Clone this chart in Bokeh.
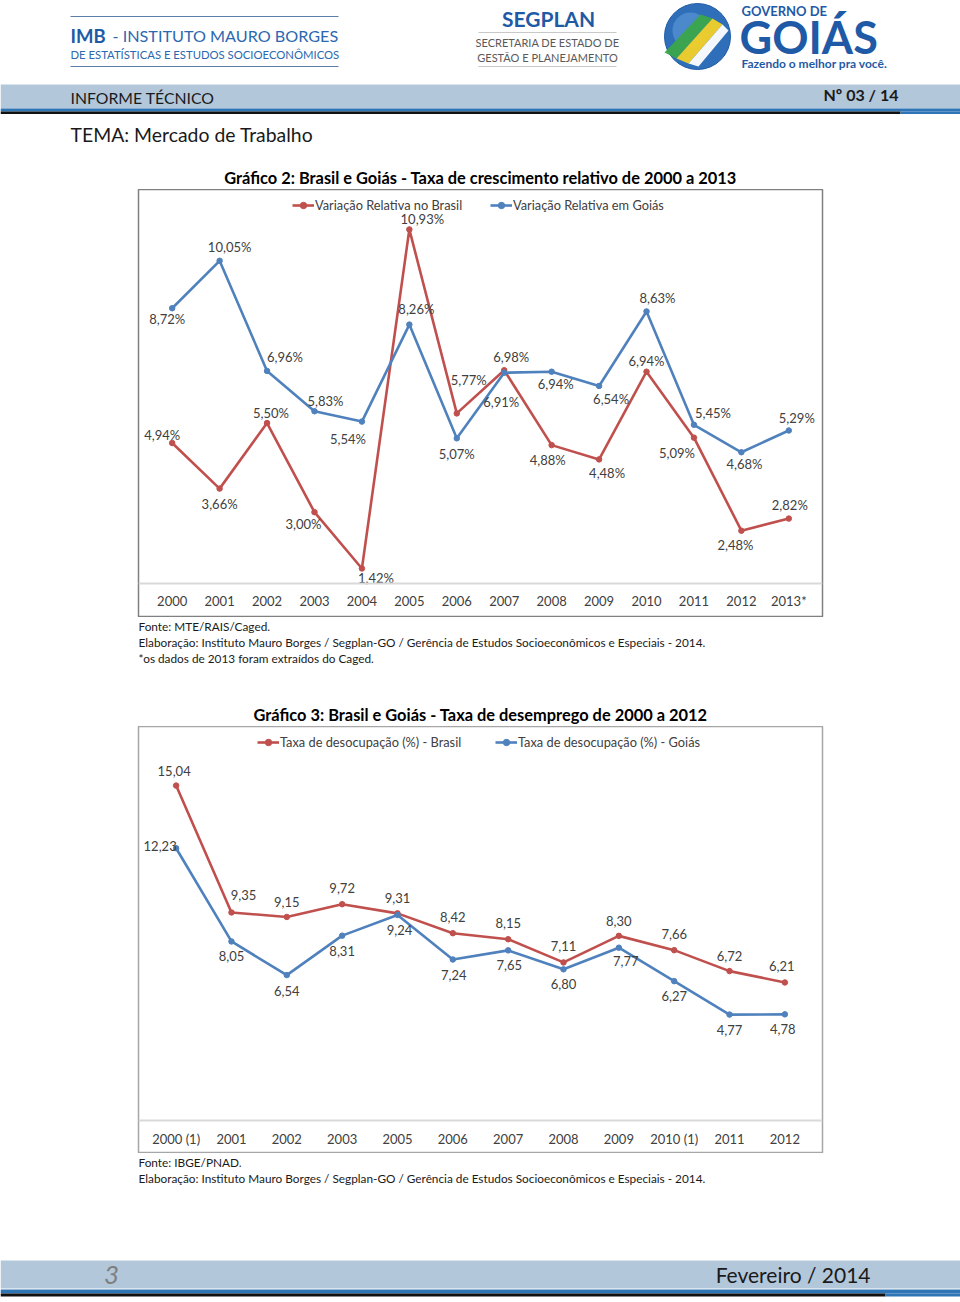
from bokeh.plotting import figure
from bokeh.layouts import column
from bokeh.models import Range1d, FactorRange, Legend, LegendItem, ColumnDataSource
from bokeh.core.properties import value
from bokeh.embed import file_html
from bokeh.resources import INLINE

# ---------------- data ----------------
years1 = ["2000", "2001", "2002", "2003", "2004", "2005", "2006", "2007",
          "2008", "2009", "2010", "2011", "2012", "2013*"]
brasil1 = [4.94, 3.66, 5.50, 3.00, 1.42, 10.93, 5.77, 6.98, 4.88, 4.48, 6.94, 5.09, 2.48, 2.82]
goias1 = [8.72, 10.05, 6.96, 5.83, 5.54, 8.26, 5.07, 6.91, 6.94, 6.54, 8.63, 5.45, 4.68, 5.29]

years2 = ["2000 (1)", "2001", "2002", "2003", "2005", "2006", "2007", "2008",
          "2009", "2010 (1)", "2011", "2012"]
brasil2 = [15.04, 9.35, 9.15, 9.72, 9.31, 8.42, 8.15, 7.11, 8.30, 7.66, 6.72, 6.21]
goias2 = [12.23, 8.05, 6.54, 8.31, 9.24, 7.24, 7.65, 6.80, 7.77, 6.27, 4.77, 4.78]

# label placement (screen pixel offsets from the point)
b1_dx = [-10, 0, 4, -11, 14, 13, 12, 7, -4, 8, 0, -17, -6, 1]
b1_dy = [-8, 15, -10, 12, 10, -10, -33, -13, 15, 14, -11, 15, 14, -14]
g1_dx = [-5, 10, 18, 11, -14, 7, 0, -3, 4, 12, 11, 19, 3, 8]
g1_dy = [11, -14, -14, -10, 17, -16, 16, 29, 12, 13, -13, -12, 12, -13]
b2_dx = [-2, 12, 0, 0, 0, 0, 0, 0, 0, 0, 0, -3]
b2_dy = [-15, -17, -15, -16, -15, -16, -16, -16, -15, -16, -15, -16]
g2_dx = [-16, 0, 0, 0, 2, 1, 1, 0, 7, 0, 0, -2]
g2_dy = [-2, 15, 16, 15, 15, 15, 15, 15, 13, 15, 15, 15]

RED = "#c0504d"
BLUE = "#4f81bd"
FONT = "Lato"
W = 960


def page_fig(y0, y1):
    f = figure(width=W, height=y1 - y0, x_range=Range1d(0, W), y_range=Range1d(y1, y0),
               output_backend="svg", toolbar_location=None, min_border=0,
               x_axis_location=None, y_axis_location=None, frame_align=False)
    f.outline_line_color = None
    f.grid.visible = False
    return f


def txt(f, x, y, s, size, color="#1a1a1a", align="left", style="normal", font=FONT):
    f.text(x=[x], y=[y], text=[s], text_font=value(font), text_font_size=size,
           text_color=color, text_align=align, text_baseline="middle", text_font_style=style)


# ---------------- header ----------------
h = page_fig(0, 189)
# IMB block
h.segment(x0=[70, 70], y0=[16, 66], x1=[338, 338], y1=[16, 66], line_color="#5a7fa8", line_width=1.2)
txt(h, 70, 35, "IMB", "18.5px", "#1f5aa6", style="bold")
txt(h, 112, 35, "- INSTITUTO MAURO BORGES", "16.2px", "#2b68b0")
txt(h, 70, 54, "DE ESTATÍSTICAS E ESTUDOS SOCIOECONÔMICOS", "11.3px", "#2b68b0")
# SEGPLAN block
txt(h, 548, 18, "SEGPLAN", "21px", "#1f5aa6", align="center", style="bold")
h.segment(x0=[478, 478], y0=[32, 66], x1=[616, 616], y1=[32, 66], line_color="#c8c8c8", line_width=1)
txt(h, 547, 42, "SECRETARIA DE ESTADO DE", "11px", "#595959", align="center")
txt(h, 547, 57, "GESTÃO E PLANEJAMENTO", "11px", "#595959", align="center")
# Goiás logo
h.circle(x=[697], y=[36], radius=33, fill_color="#2f6fba", line_color="#1f5aa6", line_width=1)
h.circle(x=[690], y=[30], radius=18, fill_color="#5f9ad8", line_color=None, fill_alpha=0.6)
h.patches(xs=[[664, 700, 712, 676], [676, 712, 722, 688], [688, 722, 728, 698]],
          ys=[[52, 14, 18, 58], [58, 18, 24, 63], [63, 24, 30, 66]],
          fill_color=["#3aa54a", "#f2d027", "#ffffff"], line_color=None, fill_alpha=0.95)
txt(h, 741, 10, "GOVERNO DE", "13px", "#1f5aa6", style="bold")
txt(h, 739, 36, "GOIÁS", "45px", "#1f5aa6", style="bold")
txt(h, 741, 63, "Fazendo o melhor pra você.", "12px", "#1f5aa6", style="bold")
# header bar
h.quad(left=[0], right=[960], top=[84], bottom=[108], fill_color="#b2c7da", line_color=None)
h.quad(left=[0], right=[960], top=[108], bottom=[111], fill_color="#2e75b6", line_color=None)
h.quad(left=[0, 900], right=[900, 960], top=[111, 111], bottom=[113.5, 113.5],
       fill_color=["#111111", "#2e75b6"], line_color=None)
txt(h, 70, 97, "INFORME TÉCNICO", "15.8px", "#1a1a1a")
txt(h, 898, 94, "Nº 03 / 14", "16px", "#1a1a1a", align="right", style="bold")
txt(h, 70, 134, "TEMA: Mercado de Trabalho", "19.4px", "#1a1a1a")
txt(h, 480, 177, "Gráfico 2: Brasil e Goiás - Taxa de crescimento relativo de 2000 a 2013",
    "16.4px", "#000000", align="center", style="bold")


# ---------------- chart helpers ----------------
def chart(cats, ser_a, ser_b, y0, y1, height, base, fmt, offs, legs, outline):
    p = figure(width=W, height=height, x_range=FactorRange(*cats, range_padding=0.03),
               y_range=Range1d(y0, y1), output_backend="svg", toolbar_location=None,
               min_border_left=138, min_border_right=138, min_border_top=0, min_border_bottom=0,
               y_axis_location=None, frame_align=False)
    p.grid.visible = False
    p.outline_line_color = outline
    p.outline_line_width = 1.5
    ax = p.xaxis[0]
    ax.fixed_location = base
    ax.axis_line_color = "#d9d9d9"
    ax.axis_line_width = 2
    ax.major_tick_line_color = None
    ax.minor_tick_line_color = None
    ax.major_label_standoff = 4
    ax.major_label_text_font = FONT
    ax.major_label_text_font_size = "13px"
    ax.major_label_text_color = "#404040"
    rends = []
    for vals, col, (dx, dy) in ((ser_a, RED, offs[0]), (ser_b, BLUE, offs[1])):
        src = ColumnDataSource(dict(x=cats, y=vals, lab=[fmt(v) for v in vals], dx=dx, dy=dy))
        rl = p.line("x", "y", source=src, line_color=col, line_width=2.6)
        rs = p.scatter("x", "y", source=src, size=5.5, fill_color=col, line_color=col)
        p.text(x="x", y="y", text="lab", x_offset="dx", y_offset="dy", source=src,
               text_align="center", text_baseline="middle", text_font=value(FONT),
               text_font_size="13px", text_color="#404040")
        rends.append([rl, rs])
    for (label, lx), rr in zip(legs, rends):
        leg = Legend(items=[LegendItem(label=label, renderers=rr)], location=(lx, height - 24),
                     orientation="horizontal", padding=0, margin=0, border_line_color=None,
                     background_fill_alpha=0, glyph_width=22, glyph_height=16, label_height=16,
                     label_standoff=1, label_text_font=FONT, label_text_font_size="12.8px",
                     label_text_color="#404040", spacing=0)
        p.add_layout(leg)
    return p


p1 = chart(years1, brasil1, goias1, 0.045, 12.05, 428, 1.0,
           lambda v: f"{v:.2f}".replace(".", ",") + "%",
           ((b1_dx, b1_dy), (g1_dx, g1_dy)),
           (("Variação Relativa no Brasil", 154), ("Variação Relativa em Goiás", 352)),
           "#808080")

mid = page_fig(617, 726)
txt(mid, 138, 626, "Fonte: MTE/RAIS/Caged.", "11.8px", "#1a1a1a")
txt(mid, 138, 642, "Elaboração: Instituto Mauro Borges / Segplan-GO / Gerência de Estudos Socioeconômicos e Especiais - 2014.", "11.8px", "#1a1a1a")
txt(mid, 138, 658, "*os dados de 2013 foram extraídos do Caged.", "11.8px", "#1a1a1a")
txt(mid, 480, 714, "Gráfico 3: Brasil e Goiás - Taxa de desemprego de 2000 a 2012",
    "16.4px", "#000000", align="center", style="bold")

p2 = chart(years2, brasil2, goias2, -1.46, 17.69, 427, 0.0,
           lambda v: f"{v:.2f}".replace(".", ","),
           ((b2_dx, b2_dy), (g2_dx, g2_dy)),
           (("Taxa de desocupação (%) - Brasil", 119), ("Taxa de desocupação (%) - Goiás", 357)),
           "#a6a6a6")

foot = page_fig(1153, 1302)
txt(foot, 138, 1162, "Fonte: IBGE/PNAD.", "11.8px", "#1a1a1a")
txt(foot, 138, 1178, "Elaboração: Instituto Mauro Borges / Segplan-GO / Gerência de Estudos Socioeconômicos e Especiais - 2014.", "11.8px", "#1a1a1a")
foot.quad(left=[0], right=[960], top=[1260], bottom=[1288], fill_color="#b2c7da", line_color=None)
foot.quad(left=[0], right=[960], top=[1289], bottom=[1293], fill_color="#2e75b6", line_color=None)
foot.quad(left=[0, 885], right=[885, 960], top=[1293, 1293], bottom=[1296, 1296],
          fill_color=["#111111", "#2e75b6"], line_color=None)
txt(foot, 111, 1274, "3", "26px", "#7f7f7f", align="center", style="italic")
txt(foot, 870, 1274, "Fevereiro / 2014", "21px", "#1a1a1a", align="right")

page = column(h, p1, mid, p2, foot, spacing=0)
open("out.html", "w").write(file_html(page, INLINE))
